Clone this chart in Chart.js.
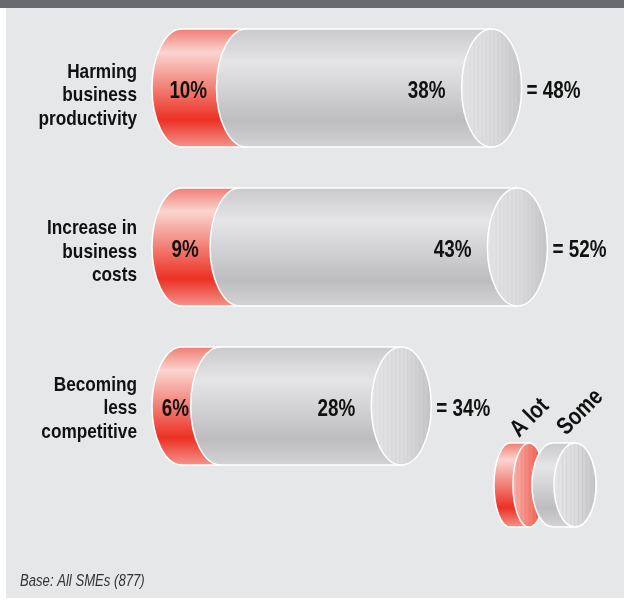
<!DOCTYPE html>
<html>
<head>
<meta charset="utf-8">
<script src="https://cdn.jsdelivr.net/npm/chart.js@4.4.1/dist/chart.umd.min.js"></script>
<style>
  html, body { margin: 0; padding: 0; background: #ffffff; overflow: hidden; }
  #wrap { position: relative; width: 624px; height: 605px; }
</style>
</head>
<body>
<div id="wrap"><canvas id="impactChart"></canvas></div>
<script>
// Category labels (one entry per line) and the two stacked series
const categories = [
    ['Harming', 'business', 'productivity'],
    ['Increase in', 'business', 'costs'],
    ['Becoming', 'less', 'competitive']
];
const aLot = [10, 9, 6];
const some = [38, 43, 28];
const seriesNames = ['A lot', 'Some'];
const footnote = 'Base: All SMEs (877)';

const FONT = '"Liberation Sans", Arial, sans-serif';
const NARROW = 0.82; // squeeze the text to a condensed look
const RX = 30; // horizontal radius of the cylinder ends

function narrowText(ctx, text, x, y, align, angle) {
    ctx.save();
    ctx.translate(x, y);
    if (angle) ctx.rotate(angle);
    ctx.scale(NARROW, 1);
    ctx.textAlign = align;
    ctx.textBaseline = 'alphabetic';
    ctx.fillText(text, 0, 0);
    ctx.restore();
}

function redSide(ctx, top, bottom) {
    const g = ctx.createLinearGradient(0, top, 0, bottom);
    g.addColorStop(0, '#ef7d74');
    g.addColorStop(0.2, '#fbd4d0');
    g.addColorStop(0.45, '#f38d84');
    g.addColorStop(0.77, '#ed3024');
    g.addColorStop(1, '#f4948b');
    return g;
}

function greySide(ctx, top, bottom) {
    const g = ctx.createLinearGradient(0, top, 0, bottom);
    g.addColorStop(0, '#cacacc');
    g.addColorStop(0.28, '#e5e5e7');
    g.addColorStop(0.55, '#d0d0d2');
    g.addColorStop(0.78, '#bdbdbf');
    g.addColorStop(1, '#d3d3d5');
    return g;
}

function faceFill(ctx, left, right, c1, c2, c3) {
    const g = ctx.createLinearGradient(left, 0, right, 0);
    g.addColorStop(0, c1);
    g.addColorStop(0.55, c2);
    g.addColorStop(1, c3);
    return g;
}

// brushed look on the end faces
function streaks(ctx, cx, cy, rx, ry) {
    ctx.save();
    ctx.beginPath();
    ctx.ellipse(cx, cy, rx, ry, 0, 0, Math.PI * 2);
    ctx.clip();
    for (let x = cx - rx, k = 0; x < cx + rx; x += 2, k++) {
        const a = 0.03 + 0.04 * Math.abs(Math.sin(k * 1.7));
        ctx.fillStyle = (k % 2 ? 'rgba(255,255,255,' : 'rgba(120,120,125,') + a + ')';
        ctx.fillRect(x, cy - ry, 1, ry * 2);
    }
    ctx.restore();
}

// side of a cylinder between two end centres (back end shows its left half)
function sidePath(ctx, xa, xb, cy, rx, ry, rightHalf) {
    ctx.beginPath();
    ctx.moveTo(xa, cy - ry);
    ctx.lineTo(xb, cy - ry);
    if (rightHalf) {
        ctx.ellipse(xb, cy, rx, ry, 0, -Math.PI / 2, Math.PI / 2, false);
    } else {
        ctx.ellipse(xb, cy, rx, ry, 0, -Math.PI / 2, Math.PI / 2, true);
    }
    ctx.lineTo(xa, cy + ry);
    ctx.ellipse(xa, cy, rx, ry, 0, Math.PI / 2, Math.PI * 1.5, false);
    ctx.closePath();
}

function drawDisk(ctx, xBack, xFront, cy, rx, ry, red) {
    sidePath(ctx, xBack, xFront, cy, rx, ry, true);
    ctx.fillStyle = red ? redSide(ctx, cy - ry, cy + ry) : greySide(ctx, cy - ry, cy + ry);
    ctx.fill();
    ctx.strokeStyle = '#ffffff';
    ctx.lineWidth = 1.5;
    ctx.stroke();
    ctx.beginPath();
    ctx.ellipse(xFront, cy, rx, ry, 0, 0, Math.PI * 2);
    ctx.fillStyle = red ? faceFill(ctx, xFront - rx, xFront + rx, '#f6b0a9', '#f27a70', '#ee4a3f')
                        : faceFill(ctx, xFront - rx, xFront + rx, '#e4e4e6', '#dadadc', '#c2c2c4');
    ctx.fill();
    streaks(ctx, xFront, cy, rx, ry);
    ctx.beginPath();
    ctx.ellipse(xFront, cy, rx, ry, 0, 0, Math.PI * 2);
    ctx.stroke();
}

const cylinderPlugin = {
    id: 'cylinders',
    beforeDraw(chart) {
        const ctx = chart.ctx;
        ctx.save();
        ctx.fillStyle = '#ffffff';
        ctx.fillRect(0, 0, chart.width, chart.height);
        ctx.fillStyle = '#e6e7e8';
        ctx.fillRect(6, 8, chart.width - 6, 590);
        ctx.fillStyle = '#68696d';
        ctx.fillRect(0, 0, chart.width, 8);
        ctx.restore();
    },
    afterDatasetsDraw(chart) {
        const ctx = chart.ctx;
        const metaA = chart.getDatasetMeta(0);
        const metaS = chart.getDatasetMeta(1);
        ctx.save();
        categories.forEach((lines, i) => {
            const a = metaA.data[i].getProps(['x', 'y', 'base', 'height'], true);
            const s = metaS.data[i].getProps(['x', 'y', 'base', 'height'], true);
            const x0 = a.base, xr = a.x, xt = s.x, cy = a.y;
            const ry = a.height / 2;

            // grey body, then red body, then the end face
            sidePath(ctx, xr, xt, cy, RX, ry, true);
            ctx.fillStyle = greySide(ctx, cy - ry, cy + ry);
            ctx.fill();
            sidePath(ctx, x0, xr, cy, RX, ry, false);
            ctx.fillStyle = redSide(ctx, cy - ry, cy + ry);
            ctx.fill();
            ctx.beginPath();
            ctx.ellipse(xt, cy, RX, ry, 0, 0, Math.PI * 2);
            ctx.fillStyle = faceFill(ctx, xt - RX, xt + RX, '#e3e3e5', '#dbdbdd', '#c4c4c6');
            ctx.fill();
            streaks(ctx, xt, cy, RX, ry);

            // white outlines
            ctx.strokeStyle = '#ffffff';
            ctx.lineWidth = 1.5;
            ctx.beginPath();
            ctx.moveTo(x0, cy - ry);
            ctx.lineTo(xt, cy - ry);
            ctx.moveTo(x0, cy + ry);
            ctx.lineTo(xt, cy + ry);
            ctx.stroke();
            ctx.beginPath();
            ctx.ellipse(x0, cy, RX, ry, 0, Math.PI / 2, Math.PI * 1.5, false);
            ctx.stroke();
            ctx.beginPath();
            ctx.ellipse(xr, cy, RX, ry, 0, Math.PI / 2, Math.PI * 1.5, false);
            ctx.stroke();
            ctx.beginPath();
            ctx.ellipse(xt, cy, RX, ry, 0, 0, Math.PI * 2);
            ctx.stroke();

            // values
            ctx.fillStyle = '#111111';
            ctx.font = 'bold 23px ' + FONT;
            narrowText(ctx, aLot[i] + '%', (x0 + xr) / 2 - RX + 4, cy + 10, 'center');
            narrowText(ctx, some[i] + '%', xt - RX - 16, cy + 10, 'right');
            narrowText(ctx, '= ' + (aLot[i] + some[i]) + '%', xt + RX + 5, cy + 10, 'left');

            // category label
            ctx.font = 'bold 21px ' + FONT;
            const shift = (1 - i) * 2.5;
            lines.forEach((t, k) => {
                narrowText(ctx, t, x0 - RX - 15, cy + 10.5 + shift + (k - 1) * 23.5, 'right');
            });
        });

        // key
        drawDisk(ctx, 510, 529, 485, 16, 42, true);
        drawDisk(ctx, 553, 575, 485, 21, 42, false);
        ctx.fillStyle = '#111111';
        ctx.font = 'bold 24px ' + FONT;
        narrowText(ctx, seriesNames[0], 519, 438, 'left', -Math.PI / 4);
        narrowText(ctx, seriesNames[1], 566, 436, 'left', -Math.PI / 4);

        // footnote
        ctx.fillStyle = '#333333';
        ctx.font = 'italic 16px ' + FONT;
        narrowText(ctx, footnote, 20, 586, 'left');
        ctx.restore();
    }
};

new Chart(document.getElementById('impactChart'), {
    type: 'bar',
    data: {
        labels: categories,
        datasets: [
            { label: seriesNames[0], data: aLot, backgroundColor: 'rgba(0,0,0,0)', barThickness: 118 },
            { label: seriesNames[1], data: some, backgroundColor: 'rgba(0,0,0,0)', barThickness: 118 }
        ]
    },
    options: {
        indexAxis: 'y',
        responsive: true,
        maintainAspectRatio: false,
        animation: false,
        layout: { padding: { left: 182, right: 55, top: 8.5, bottom: 119.5 } },
        scales: {
            x: { stacked: true, min: 0, max: 60, display: false },
            y: { stacked: true, display: false }
        },
        plugins: {
            legend: { display: false },
            tooltip: { enabled: false }
        }
    },
    plugins: [cylinderPlugin]
});
</script>
</body>
</html>
